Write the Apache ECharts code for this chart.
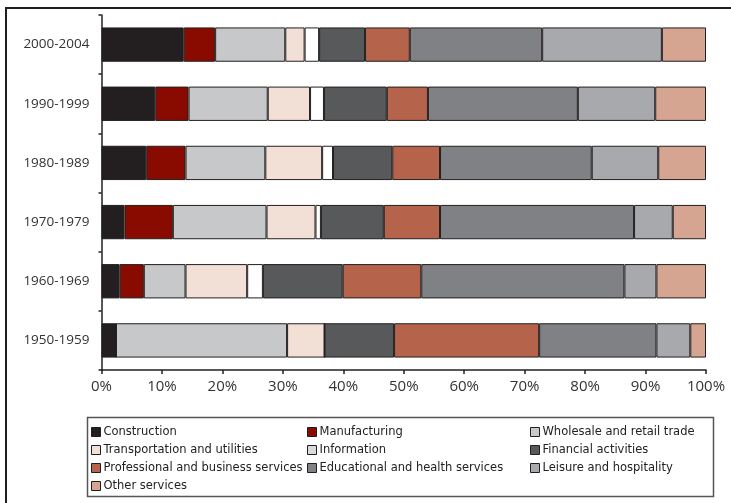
<!DOCTYPE html>
<html><head><meta charset="utf-8">
<script src="https://cdn.jsdelivr.net/npm/echarts@6/dist/echarts.min.js"></script>
<style>html,body{margin:0;padding:0;background:#fff}#c{width:731px;height:503px}</style>
</head><body><div id="c"></div>
<script>
const categories = ['1950-1959','1960-1969','1970-1979','1980-1989','1990-1999','2000-2004'];
const seriesNames = ['Construction','Manufacturing','Wholesale and retail trade','Transportation and utilities','Information','Financial activities','Professional and business services','Educational and health services','Leisure and hospitality','Other services'];
const construction   = [2.4, 3.0, 3.8, 7.4, 8.9, 13.6];
const manufacturing  = [0.0, 4.0, 8.0, 6.5, 5.5, 5.2];
const wholesale      = [28.3, 6.9, 15.5, 13.2, 13.1, 11.6];
const transportation = [6.2, 10.2, 8.1, 9.4, 7.0, 3.2];
const information    = [0.0, 2.6, 0.9, 1.8, 2.3, 2.4];
const financial      = [11.5, 13.2, 10.4, 9.8, 10.4, 7.6];
const professional   = [24.0, 13.0, 9.3, 7.9, 6.8, 7.4];
const educational    = [19.4, 33.6, 32.1, 25.1, 24.8, 21.9];
const leisure        = [5.6, 5.3, 6.4, 11.0, 12.8, 19.8];
const other          = [2.6, 8.2, 5.5, 7.9, 8.4, 7.3];
const xTicks = ['0%','10%','20%','30%','40%','50%','60%','70%','80%','90%','100%'];

const values = [construction, manufacturing, wholesale, transportation, information, financial, professional, educational, leisure, other];
const colors = ['#231f20','#890b00','#c7c8ca','#f2dfd6','#ffffff','#58595b','#b5634b','#808184','#a7a9ac','#d6a591'];
const legendColors = colors.slice(); legendColors[4] = '#d9dadb';

const chart = echarts.init(document.getElementById('c'));
const series = seriesNames.map((n,i)=>({
  name:n, type:'bar', stack:'all', barWidth:'58%',
  data: values[i],
  itemStyle:{color:colors[i], borderColor:'#231f20', borderWidth:1},
  emphasis:{disabled:true}
}));
function legendCol(names, left){
  return {
    orient:'vertical', left:left, top:426, itemGap:6, itemWidth:9, itemHeight:9, icon:'rect',
    padding:0,
    textStyle:{fontFamily:'DejaVu Sans', fontSize:11.5, color:'#222', padding:[0,0,0,-2]},
    data: names.map(n=>{const i=seriesNames.indexOf(n); return {name:n, itemStyle:{color:legendColors[i], borderColor:'#231f20', borderWidth:1}};}),
    selectedMode:false
  };
}
chart.setOption({
  animation:false,
  grid:{left:101.5, right:25, top:15, bottom:133},
  xAxis:{type:'value', min:0, max:100, interval:10,
    axisLine:{show:true, lineStyle:{color:'#231f20', width:1.5}},
    axisTick:{show:true, length:4, lineStyle:{color:'#231f20', width:1.5}},
    splitLine:{show:false},
    axisLabel:{formatter:(v)=>xTicks[Math.round(v/10)], fontFamily:'Open Sans', fontSize:15, color:'#333', margin:9}
  },
  yAxis:{type:'category', data:categories,
    axisLine:{show:true, lineStyle:{color:'#231f20', width:1.5}},
    axisTick:{show:true, length:3, lineStyle:{color:'#231f20', width:1.5}},
    axisLabel:{fontFamily:'Open Sans', fontSize:13.5, color:'#333', margin:12}
  },
  legend:[
    legendCol(['Construction','Transportation and utilities','Professional and business services','Other services'], 91),
    legendCol(['Manufacturing','Information','Educational and health services'], 307),
    legendCol(['Wholesale and retail trade','Financial activities','Leisure and hospitality'], 530)
  ],
  graphic:[
    {type:'polyline', shape:{points:[[6,503],[6,8],[731,8]]}, style:{stroke:'#231f20', lineWidth:2, fill:null}},
    {type:'rect', shape:{x:87.5, y:417.5, width:626, height:79}, style:{stroke:'#555', lineWidth:1.5, fill:null}, z:-1}
  ],
  series:series
});
</script></body></html>
